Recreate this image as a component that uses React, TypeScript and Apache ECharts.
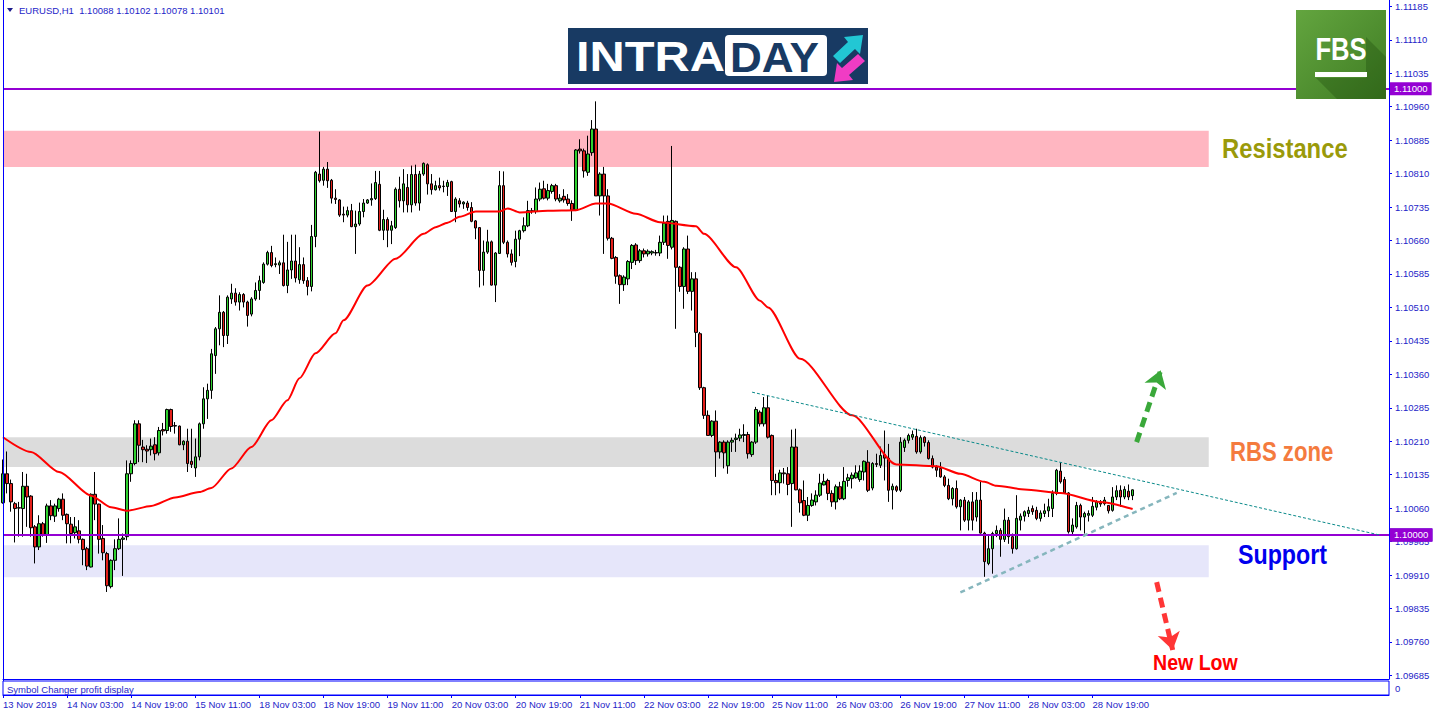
import React, { useEffect, useRef } from "react";
import * as echarts from "echarts";

const FONT = '"Liberation Sans", Arial, Helvetica, sans-serif';
const LINE_BLUE = "#0000ff";
const TEXT_BLUE = "#1e1ec8";
const PURPLE = "#9400d3";
const BULL = "#2fd12f";
const BEAR = "#e3201b";
const PT = 1e-5; // candle values are stored in points (1e-5)

// trading sessions (day label, first hour, last hour) -> one H1 category per hour
const sessions: [string, number, number][] = [
  ["13 Nov", 11, 23], ["14 Nov", 0, 23], ["15 Nov", 0, 23], ["18 Nov", 0, 23], ["19 Nov", 0, 23],
  ["20 Nov", 0, 23], ["21 Nov", 0, 23], ["22 Nov", 0, 23], ["25 Nov", 0, 23], ["26 Nov", 0, 23],
  ["27 Nov", 0, 23], ["28 Nov", 0, 23], ["29 Nov", 0, 23], ["2 Dec", 0, 23], ["3 Dec", 0, 21],
];

const xTickLabels = [
  "13 Nov 2019", "14 Nov 03:00", "14 Nov 19:00", "15 Nov 11:00", "18 Nov 03:00", "18 Nov 19:00",
  "19 Nov 11:00", "20 Nov 03:00", "20 Nov 19:00", "21 Nov 11:00", "22 Nov 03:00", "22 Nov 19:00",
  "25 Nov 11:00", "26 Nov 03:00", "26 Nov 19:00", "27 Nov 11:00", "28 Nov 03:00", "28 Nov 19:00",
];
const X_TICK_STEP = 16;

const yTickValues = [
  1.11185, 1.1111, 1.11035, 1.1096, 1.10885, 1.1081, 1.10735, 1.1066, 1.10585, 1.1051, 1.10435,
  1.1036, 1.10285, 1.1021, 1.10135, 1.1006, 1.09985, 1.0991, 1.09835, 1.0976, 1.09685,
];
const priceTop = 1.1119925;
const priceBottom = 1.0967688;

// [open, high, low, close] in points, per trading day
const nov13 = [
  [110072, 110169, 110070, 110137], [110137, 110187, 110093, 110115], [110115, 110124, 110052, 110074],
  [110070, 110074, 109983, 110059], [110061, 110074, 109996, 110060], [110059, 110141, 109996, 110109],
  [110109, 110137, 110018, 110085], [110087, 110089, 109996, 110016], [110018, 110022, 109936, 109973],
  [109973, 110044, 109966, 110025], [110025, 110029, 109996, 109999], [109999, 110070, 109982, 110065],
  [110065, 110078, 110033, 110043],
];
const nov14 = [
  [110042, 110070, 110029, 110065], [110059, 110083, 110052, 110080], [110080, 110093, 110033, 110044],
  [110046, 110048, 109981, 110025], [110024, 110040, 109981, 110003], [110005, 110040, 109992, 110018],
  [110009, 110033, 109981, 109990], [109990, 109992, 109932, 109967], [109969, 109973, 109921, 109930],
  [109928, 110093, 109927, 110091], [110091, 110141, 110033, 110069], [110069, 110070, 109958, 109990],
  [109992, 110022, 109943, 109960], [109958, 109962, 109872, 109886], [109884, 109945, 109880, 109943],
  [109943, 109990, 109921, 109969], [109969, 110037, 109966, 109990], [109990, 110003, 109908, 109993],
  [109996, 110167, 109988, 110137], [110137, 110167, 110119, 110160], [110160, 110257, 110156, 110249],
  [110249, 110257, 110163, 110201], [110197, 110213, 110163, 110191], [110192, 110201, 110161, 110188],
];
const nov15 = [
  [110191, 110216, 110178, 110199], [110202, 110219, 110167, 110182], [110184, 110242, 110178, 110234],
  [110236, 110251, 110223, 110233], [110234, 110283, 110227, 110281], [110281, 110283, 110231, 110243],
  [110245, 110253, 110227, 110244], [110244, 110245, 110201, 110202], [110202, 110212, 110190, 110210],
  [110210, 110238, 110141, 110160], [110165, 110238, 110150, 110158], [110150, 110216, 110130, 110175],
  [110175, 110252, 110167, 110249], [110249, 110331, 110238, 110305], [110305, 110339, 110260, 110324],
  [110324, 110417, 110305, 110406], [110402, 110466, 110361, 110462], [110462, 110537, 110425, 110499],
  [110499, 110502, 110421, 110447], [110447, 110537, 110428, 110533], [110529, 110563, 110518, 110542],
  [110542, 110553, 110514, 110522], [110522, 110544, 110503, 110539], [110539, 110542, 110510, 110522],
];
const nov18 = [
  [110522, 110525, 110467, 110492], [110495, 110533, 110490, 110529], [110529, 110566, 110525, 110548],
  [110548, 110581, 110527, 110570], [110566, 110611, 110563, 110607], [110607, 110637, 110604, 110633],
  [110633, 110648, 110600, 110604], [110606, 110622, 110600, 110608], [110605, 110615, 110585, 110610],
  [110610, 110673, 110557, 110559], [110559, 110657, 110542, 110594], [110594, 110673, 110574, 110614],
  [110614, 110673, 110566, 110576], [110572, 110645, 110563, 110606], [110606, 110622, 110563, 110570],
  [110570, 110578, 110537, 110557], [110557, 110695, 110546, 110669], [110669, 110816, 110645, 110813],
  [110809, 110904, 110790, 110794], [110795, 110825, 110783, 110820], [110820, 110836, 110778, 110794],
  [110795, 110798, 110743, 110755], [110755, 110775, 110742, 110752], [110751, 110753, 110713, 110717],
];
const nov19 = [
  [110719, 110736, 110701, 110717], [110717, 110736, 110712, 110727], [110727, 110742, 110690, 110691],
  [110691, 110727, 110630, 110697], [110697, 110745, 110693, 110725], [110725, 110753, 110712, 110744],
  [110744, 110753, 110742, 110751], [110751, 110788, 110738, 110754], [110754, 110816, 110751, 110790],
  [110786, 110816, 110681, 110683], [110683, 110729, 110661, 110707], [110707, 110712, 110645, 110683],
  [110683, 110704, 110652, 110693], [110689, 110779, 110686, 110775], [110775, 110803, 110734, 110749],
  [110749, 110820, 110723, 110787], [110779, 110809, 110723, 110740], [110740, 110828, 110723, 110808],
  [110808, 110830, 110738, 110744], [110744, 110816, 110727, 110809], [110809, 110835, 110805, 110833],
  [110830, 110833, 110763, 110787], [110787, 110809, 110763, 110774], [110774, 110794, 110772, 110783],
];
const nov20 = [
  [110783, 110801, 110772, 110778], [110781, 110794, 110768, 110782], [110781, 110796, 110760, 110790],
  [110792, 110794, 110725, 110725], [110725, 110757, 110701, 110753], [110749, 110755, 110734, 110742],
  [110742, 110748, 110731, 110746], [110744, 110749, 110727, 110734], [110734, 110746, 110701, 110703],
  [110704, 110706, 110663, 110688], [110689, 110690, 110555, 110593], [110593, 110660, 110559, 110634],
  [110634, 110684, 110630, 110657], [110657, 110660, 110559, 110560], [110560, 110634, 110522, 110632],
  [110631, 110816, 110630, 110783], [110783, 110815, 110652, 110656], [110656, 110660, 110622, 110630],
  [110630, 110640, 110604, 110611], [110613, 110682, 110600, 110663], [110663, 110684, 110625, 110682],
  [110682, 110712, 110678, 110693], [110693, 110749, 110690, 110727], [110727, 110733, 110720, 110725],
];
const nov21 = [
  [110725, 110779, 110720, 110753], [110753, 110790, 110748, 110775], [110776, 110794, 110752, 110755],
  [110755, 110787, 110750, 110772], [110770, 110787, 110765, 110783], [110783, 110787, 110748, 110753],
  [110749, 110764, 110745, 110755], [110759, 110775, 110745, 110751], [110753, 110764, 110738, 110743],
  [110743, 110750, 110704, 110728], [110728, 110865, 110726, 110863], [110865, 110887, 110855, 110861],
  [110861, 110866, 110801, 110816], [110813, 110895, 110805, 110854], [110857, 110930, 110850, 110910],
  [110910, 110972, 110760, 110760], [110760, 110813, 110716, 110809], [110809, 110825, 110630, 110760],
  [110760, 110775, 110660, 110665], [110665, 110668, 110618, 110620], [110622, 110625, 110563, 110580],
  [110581, 110584, 110518, 110561], [110561, 110582, 110547, 110578], [110574, 110616, 110560, 110613],
];
const nov22 = [
  [110611, 110652, 110596, 110649], [110650, 110654, 110605, 110615], [110615, 110641, 110610, 110637],
  [110637, 110642, 110622, 110630], [110630, 110640, 110624, 110636], [110632, 110638, 110627, 110635],
  [110633, 110639, 110626, 110632], [110632, 110671, 110625, 110656], [110656, 110716, 110650, 110699],
  [110703, 110716, 110619, 110649], [110645, 110872, 110640, 110705], [110703, 110705, 110462, 110600],
  [110600, 110603, 110545, 110557], [110557, 110645, 110507, 110641], [110641, 110671, 110540, 110546],
  [110546, 110589, 110503, 110574], [110574, 110589, 110421, 110454], [110451, 110455, 110325, 110330],
  [110330, 110332, 110260, 110268], [110268, 110279, 110223, 110223], [110223, 110257, 110219, 110255],
  [110255, 110279, 110130, 110186], [110186, 110210, 110171, 110208], [110208, 110212, 110149, 110184],
];
const nov25 = [
  [110155, 110212, 110137, 110208], [110208, 110218, 110186, 110212], [110214, 110227, 110186, 110217],
  [110217, 110238, 110210, 110224], [110223, 110248, 110208, 110225], [110225, 110231, 110171, 110182],
  [110180, 110210, 110175, 110208], [110208, 110287, 110204, 110281], [110275, 110279, 110243, 110249],
  [110249, 110309, 110243, 110285], [110285, 110313, 110216, 110219], [110223, 110225, 110089, 110122],
  [110122, 110137, 110089, 110117], [110117, 110146, 110093, 110139], [110139, 110150, 110115, 110137],
  [110137, 110152, 110089, 110113], [110115, 110236, 110018, 110197], [110197, 110238, 110100, 110101],
  [110101, 110104, 110050, 110072], [110077, 110122, 110042, 110044], [110044, 110085, 110031, 110066],
  [110066, 110093, 110063, 110078], [110074, 110100, 110066, 110089], [110089, 110137, 110085, 110116],
];
const nov26 = [
  [110112, 110137, 110111, 110120], [110122, 110126, 110078, 110093], [110093, 110100, 110063, 110074],
  [110074, 110113, 110057, 110108], [110108, 110119, 110078, 110081], [110081, 110152, 110078, 110120],
  [110122, 110137, 110108, 110128], [110126, 110140, 110104, 110134], [110128, 110156, 110126, 110139],
  [110124, 110156, 110119, 110143], [110141, 110167, 110122, 110165], [110163, 110190, 110096, 110100],
  [110105, 110163, 110100, 110160], [110160, 110182, 110152, 110158], [110156, 110198, 110150, 110178],
  [110180, 110234, 110122, 110172], [110172, 110204, 110074, 110100], [110101, 110115, 110057, 110109],
  [110108, 110111, 110096, 110100], [110100, 110219, 110096, 110208], [110196, 110216, 110186, 110212],
  [110212, 110227, 110205, 110223], [110219, 110234, 110213, 110225], [110221, 110238, 110182, 110186],
];
const nov27 = [
  [110186, 110223, 110182, 110218], [110219, 110221, 110198, 110207], [110207, 110212, 110169, 110171],
  [110171, 110178, 110149, 110152], [110152, 110156, 110130, 110145], [110149, 110163, 110128, 110130],
  [110130, 110134, 110107, 110111], [110111, 110126, 110078, 110081], [110081, 110107, 110066, 110104],
  [110104, 110122, 110059, 110063], [110063, 110080, 110010, 110078], [110078, 110085, 110029, 110033],
  [110033, 110078, 110010, 110074], [110074, 110096, 110010, 110033], [110040, 110096, 110030, 110078],
  [110078, 110119, 110003, 110004], [110004, 110007, 109906, 109940], [109936, 109999, 109932, 109969],
  [109969, 110007, 109913, 110003], [110003, 110021, 109995, 110010], [110010, 110015, 109951, 109990],
  [109990, 110059, 109984, 110033], [110033, 110040, 109980, 109996], [109996, 110003, 109958, 109969],
];
const nov28 = [
  [109969, 110089, 109967, 110037], [110033, 110048, 110010, 110042], [110042, 110055, 110030, 110052],
  [110048, 110063, 110040, 110055], [110059, 110066, 110045, 110052], [110055, 110063, 110033, 110037],
  [110037, 110055, 110030, 110049], [110048, 110070, 110040, 110054], [110054, 110081, 110040, 110063],
  [110059, 110100, 110040, 110093], [110093, 110148, 110089, 110145], [110143, 110163, 110115, 110119],
  [110124, 110130, 110092, 110094], [110094, 110096, 110003, 110007], [110007, 110037, 109999, 110022],
  [110018, 110074, 110014, 110066], [110066, 110070, 110010, 110040], [110040, 110052, 110003, 110048],
  [110044, 110055, 110030, 110048], [110044, 110085, 110040, 110064], [110062, 110078, 110055, 110074],
  [110072, 110078, 110063, 110069], [110070, 110085, 110066, 110078], [110066, 110066, 110048, 110054],
];
const nov29 = [
  [110055, 110107, 110052, 110085], [110085, 110111, 110078, 110099], [110100, 110111, 110063, 110085],
  [110085, 110109, 110080, 110102], [110098, 110113, 110078, 110085], [110088, 110102, 110078, 110101],
];

// moving average: [bar index, price]
const maPoints: [number, number][] = [
  [0, 1.10219], [7, 1.10186], [14, 1.10141], [22, 1.10088], [27, 1.10062], [31, 1.10054], [37, 1.10065],
  [43, 1.10084], [49, 1.10096], [52, 1.10105], [57, 1.10149], [62, 1.10197], [67, 1.10257], [71, 1.10302],
  [74, 1.10351], [78, 1.10407], [83, 1.10452], [85, 1.10481], [91, 1.10559], [98, 1.10619], [105, 1.10675],
  [108, 1.1069], [111, 1.107], [114, 1.10713], [118, 1.10725], [124, 1.10725], [126, 1.10732], [129, 1.10723],
  [136, 1.10727], [143, 1.10728], [148, 1.10743], [151, 1.10743], [158, 1.1072], [164, 1.10701],
  [173, 1.10692], [175, 1.10675], [183, 1.106], [189, 1.10525], [191, 1.1051], [199, 1.10395],
  [212, 1.10268], [223, 1.10158], [233, 1.10154], [239, 1.10137], [245, 1.10119], [248, 1.1011],
  [255, 1.10102], [264, 1.10094], [274, 1.10074], [282, 1.10058],
];

const levelPrices = [1.11, 1.104, 1.1];
const bidPrice = 1.10101;

// zones: [from bar, to bar, top price, bottom price, colour]
const resistanceZone = [0, 301, 1.10906, 1.10825, "#ffb6c1"];
const rbsZone = [0, 301, 1.10219, 1.10152, "#dcdcdc"];
const supportZone = [0, 301, 1.09977, 1.09905, "#e6e6fa"];

const upperTrend = [[187, 1.1032], [344, 1.09999]];
const lowerTrend = [[239, 1.09871], [293, 1.10094]];
const upArrow = [[283, 1.10208], [289, 1.10369]];
const downArrow = [[288, 1.09894], [292, 1.09742]];

const candles = [
  ...nov13, ...nov14, ...nov15, ...nov18, ...nov19, ...nov20, ...nov21,
  ...nov22, ...nov25, ...nov26, ...nov27, ...nov28, ...nov29,
];

function buildCategories(): string[] {
  const out: string[] = [];
  for (const [day, h0, h1] of sessions) {
    for (let h = h0; h <= h1; h++) out.push(`${day} ${String(h).padStart(2, "0")}:00`);
  }
  return out;
}

function txt(x: number, y: number, text: string, fill: string, size: number, bold = false, extra: any = {}, align = "left") {
  return {
    type: "text",
    x,
    y,
    silent: true,
    z: 100,
    ...extra,
    style: {
      text,
      fill,
      fontSize: size,
      fontFamily: FONT,
      fontWeight: bold ? "bold" : "normal",
      align,
      verticalAlign: "middle",
    },
  };
}

function buildOption() {
  const categories = buildCategories();
  const tickShown = (i: number) => i % X_TICK_STEP === 0 && i / X_TICK_STEP < xTickLabels.length;
  const candleData = candles.map(([o, h, l, c]) => [o * PT, c * PT, l * PT, h * PT]);
  const last = candles[candles.length - 1];
  const header = `EURUSD,H1  ${(last[0] * PT).toFixed(5)} ${(last[1] * PT).toFixed(5)} ${(last[2] * PT).toFixed(5)} ${(last[3] * PT).toFixed(5)}`;

  const zoneArea = (z: any[]) => [
    { xAxis: z[0], yAxis: z[2], itemStyle: { color: z[4] } },
    { xAxis: z[1], yAxis: z[3] },
  ];
  const markerLabel = (bg: string) => ({
    show: true,
    position: "end",
    distance: 1,
    formatter: (p: any) => Number(p.value).toFixed(5),
    color: "#ffffff",
    backgroundColor: bg,
    padding: [2, 4, 1, 4],
    fontSize: 9.5,
    fontFamily: FONT,
  });

  const segment = (pts: number[][], lineStyle: any, arrow = false) => [
    { coord: pts[0], symbol: "none", lineStyle },
    { coord: pts[1], symbol: arrow ? "arrow" : "none", symbolSize: arrow ? 17 : 0 },
  ];

  const graphics: any[] = [
    { type: "line", silent: true, z: 100, shape: { x1: 3.5, y1: 0, x2: 3.5, y2: 681 }, style: { stroke: LINE_BLUE, lineWidth: 1 } },
    { type: "polygon", silent: true, z: 100, shape: { points: [[7, 8], [13, 8], [10, 12]] }, style: { fill: "#1a1a8c" } },
    txt(19, 10.5, header, TEXT_BLUE, 9.5),
    // INTRADAY logo
    { type: "rect", silent: true, z: 100, shape: { x: 568, y: 28, width: 300, height: 56 }, style: { fill: "#183a63" } },
    txt(576, 57, "INTRA", "#ffffff", 42, true, { scaleX: 1.16 }),
    { type: "rect", silent: true, z: 100, shape: { x: 725, y: 35, width: 102, height: 41, r: 4 }, style: { fill: "#ffffff" } },
    txt(730, 57, "DAY", "#183a63", 42, true, { scaleX: 1.05 }),
    { type: "polygon", silent: true, z: 100, shape: { points: [[863, 35], [860, 54], [855, 49], [840, 63], [833, 56], [848, 42], [844, 37]] }, style: { fill: "#22c7d4" } },
    { type: "polygon", silent: true, z: 100, shape: { points: [[834, 82], [837, 63], [842, 68], [858, 54], [865, 61], [849, 75], [853, 80]] }, style: { fill: "#f03cc4" } },
    // FBS logo
    {
      type: "rect", silent: true, z: 100, shape: { x: 1296, y: 10, width: 90, height: 89 },
      style: { fill: new echarts.graphic.LinearGradient(0, 0, 1, 1, [{ offset: 0, color: "#63a53f" }, { offset: 1, color: "#3f7c23" }]) },
    },
    { type: "polygon", silent: true, z: 100, shape: { points: [[1316, 78], [1337, 99], [1386, 99], [1386, 57], [1366, 37], [1366, 78]] }, style: { fill: "rgba(10,50,0,0.25)" } },
    txt(1341, 49, "FBS", "#ffffff", 32, true, { scaleX: 0.8 }, "center"),
    { type: "rect", silent: true, z: 100, shape: { x: 1315, y: 72, width: 52, height: 5 }, style: { fill: "#ffffff" } },
    // annotations
    txt(1222, 148, "Resistance", "#9a9a0a", 28, true, { scaleX: 0.85 }),
    txt(1230, 451, "RBS zone", "#f47b3e", 28, true, { scaleX: 0.79 }),
    txt(1238, 554, "Support", "#0000ee", 28, true, { scaleX: 0.83 }),
    txt(1153, 662, "New Low", "#ff0000", 22, true, { scaleX: 0.89 }),
    // sub window
    txt(7, 689, "Symbol Changer profit display", TEXT_BLUE, 9.5),
    txt(1395, 688, "0", TEXT_BLUE, 9.5),
  ];

  return {
    animation: false,
    backgroundColor: "#ffffff",
    grid: [
      { left: 3, right: 47, top: -1, height: 680, show: false },
      { left: 3, right: 47, top: 681, height: 14, show: true, borderColor: LINE_BLUE, borderWidth: 1, backgroundColor: "transparent" },
    ],
    xAxis: [
      {
        type: "category", gridIndex: 0, data: categories, boundaryGap: false,
        axisLine: { show: true, lineStyle: { color: LINE_BLUE, width: 1 } },
        axisTick: { show: false }, axisLabel: { show: false }, splitLine: { show: false },
      },
      {
        type: "category", gridIndex: 1, data: categories, boundaryGap: false,
        axisLine: { show: true, lineStyle: { color: LINE_BLUE, width: 1 } },
        axisTick: { show: true, interval: (i: number) => tickShown(i), length: 3, lineStyle: { color: LINE_BLUE } },
        axisLabel: {
          interval: (i: number) => tickShown(i),
          formatter: (_v: string, i: number) => (tickShown(i) ? xTickLabels[i / X_TICK_STEP] : ""),
          align: "left", margin: 4, color: TEXT_BLUE, fontSize: 9.5, fontFamily: FONT,
        },
        splitLine: { show: false },
      },
    ],
    yAxis: [
      {
        type: "value", gridIndex: 0, position: "right", min: priceBottom, max: priceTop,
        axisLine: { show: true, lineStyle: { color: LINE_BLUE, width: 1 } },
        axisTick: { show: true, length: 3, customValues: yTickValues, lineStyle: { color: LINE_BLUE } },
        axisLabel: {
          customValues: yTickValues, formatter: (v: number) => v.toFixed(5),
          margin: 6, color: TEXT_BLUE, fontSize: 9.5, fontFamily: FONT,
        },
        splitLine: { show: false },
      },
      { type: "value", gridIndex: 1, min: 0, max: 1, show: false },
    ],
    graphic: graphics,
    series: [
      {
        name: "zones", type: "line", data: [], z: 1, xAxisIndex: 0, yAxisIndex: 0,
        markArea: { silent: true, z: 1, data: [zoneArea(resistanceZone), zoneArea(rbsZone), zoneArea(supportZone)] },
        markLine: {
          silent: true, z: 1, symbol: ["none", "none"],
          lineStyle: { color: "#8c8c8c", width: 1, type: "solid" },
          label: markerLabel("#0a0acd"),
          data: [{ yAxis: bidPrice }],
        },
      },
      {
        name: "EURUSD,H1", type: "candlestick", data: candleData, z: 2, xAxisIndex: 0, yAxisIndex: 0,
        barWidth: 3,
        itemStyle: {
          color: BULL, color0: BEAR, borderColor: "#000000", borderColor0: "#000000",
          borderColorDoji: "#000000", borderWidth: 1,
        },
      },
      {
        name: "MA", type: "line", data: maPoints, z: 3, xAxisIndex: 0, yAxisIndex: 0,
        showSymbol: false, symbol: "none", smooth: 0.25, smoothMonotone: "x",
        lineStyle: { color: "#ff0000", width: 2 },
      },
      {
        name: "levels", type: "line", data: [], z: 4, xAxisIndex: 0, yAxisIndex: 0,
        markLine: {
          silent: true, z: 6, symbol: ["none", "none"],
          lineStyle: { color: PURPLE, width: 2, type: "solid" },
          label: markerLabel(PURPLE),
          data: levelPrices.map((v) => ({ yAxis: v })),
        },
      },
      {
        name: "annotations", type: "line", data: [], z: 5, xAxisIndex: 0, yAxisIndex: 0,
        markLine: {
          silent: true, z: 7, symbol: ["none", "none"], label: { show: false },
          data: [
            segment(upperTrend, { color: "#0a8a8a", width: 1, type: [3, 2] }),
            segment(lowerTrend, { color: "#86b6bd", width: 2.5, type: [5, 4] }),
            segment(upArrow, { color: "#3aa83a", width: 5, type: [10, 6] }, true),
            segment(downArrow, { color: "#ff3636", width: 5, type: [10, 6] }, true),
          ],
        },
      },
    ],
  };
}

export default function App() {
  const ref = useRef<HTMLDivElement>(null);
  useEffect(() => {
    if (!ref.current) return;
    const chart = echarts.init(ref.current, undefined, { renderer: "svg" });
    chart.setOption(buildOption() as any);
    return () => chart.dispose();
  }, []);
  return (
    <div
      ref={ref}
      style={{ position: "fixed", left: 0, top: 0, width: 1436, height: 716, background: "#ffffff" }}
    />
  );
}
